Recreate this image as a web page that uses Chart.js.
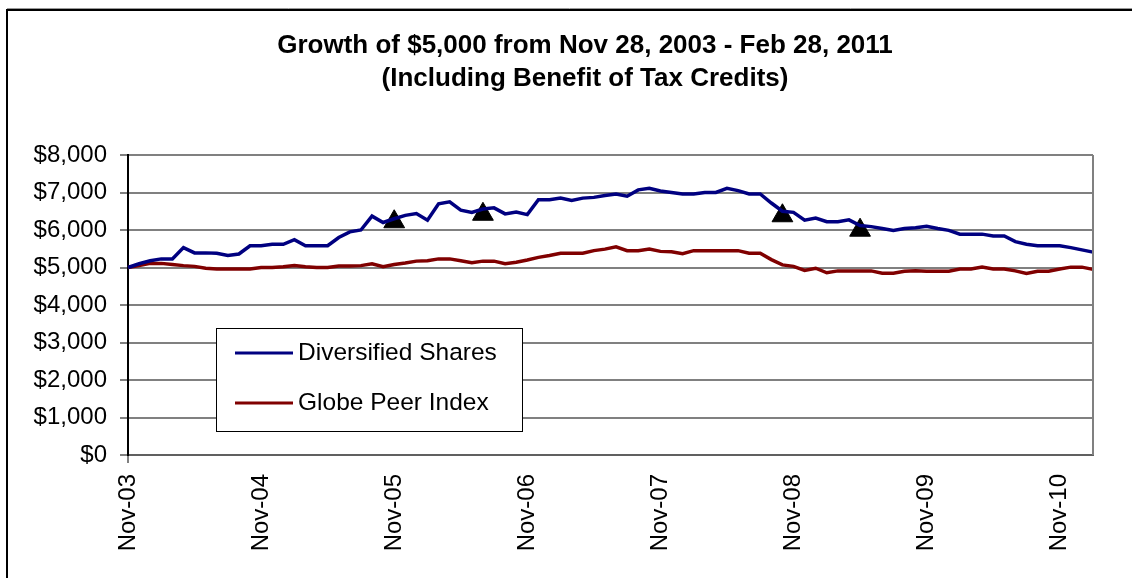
<!DOCTYPE html>
<html>
<head>
<meta charset="utf-8">
<script src="https://cdn.jsdelivr.net/npm/chart.js@4/dist/chart.umd.min.js"></script>
<style>
  html, body { margin: 0; padding: 0; background: #fff; }
  #wrap { width: 1132px; height: 578px; position: relative; }
</style>
</head>
<body>
<div id="wrap"><canvas id="growthChart"></canvas></div>
<script>
// monthly values, Nov-03 .. Feb-11
const monthNames = ['Nov', 'Dec', 'Jan', 'Feb', 'Mar', 'Apr', 'May', 'Jun', 'Jul', 'Aug', 'Sep', 'Oct'];
const startYear = 2003;
const monthCount = 88;

const diversified = [
  5000, 5100, 5180, 5230, 5230, 5530, 5390, 5390, 5380, 5320, 5360, 5580,
  5580, 5620, 5620, 5740, 5580, 5580, 5580, 5800, 5950, 6000, 6370, 6200,
  6300, 6390, 6440, 6260, 6700, 6750, 6530, 6470, 6560, 6590, 6430, 6480,
  6410, 6810, 6810, 6850, 6790, 6850, 6870, 6920, 6960, 6900, 7070, 7110,
  7040, 7000, 6960, 6960, 7000, 7000, 7110, 7050, 6960, 6960, 6720, 6500,
  6470, 6260, 6320, 6220, 6220, 6270, 6120, 6090, 6040, 5990, 6040, 6060,
  6100, 6040, 5990, 5890, 5890, 5890, 5840, 5840, 5690, 5620, 5580, 5580,
  5580, 5530, 5470, 5410
];

const peerIndex = [
  5000, 5050, 5110, 5110, 5080, 5050, 5030, 4980, 4960, 4960, 4960, 4960,
  5000, 5000, 5020, 5050, 5020, 5000, 5000, 5040, 5040, 5050, 5100, 5020,
  5080, 5120, 5170, 5180, 5230, 5230, 5180, 5130, 5170, 5170, 5100, 5140,
  5200, 5270, 5320, 5380, 5380, 5380, 5450, 5490, 5550, 5450, 5450, 5490,
  5430, 5420, 5370, 5450, 5450, 5450, 5450, 5450, 5380, 5380, 5210, 5070,
  5030, 4920, 4980, 4860, 4910, 4910, 4910, 4910, 4850, 4850, 4900, 4910,
  4900, 4900, 4900, 4960, 4960, 5010, 4960, 4960, 4910, 4840, 4900, 4900,
  4960, 5010, 5010, 4950
];

// triangle markers
const markerIndex = [24, 32, 59, 66];
const markerValue = [6220, 6420, 6380, 5995];

const titleLines = ['Growth of $5,000 from Nov 28, 2003 - Feb 28, 2011', '(Including Benefit of Tax Credits)'];

const labels = [];
for (let i = 0; i < monthCount; i++) {
    const yr = startYear + Math.floor((i + 10) / 12);
    labels.push(monthNames[i % 12] + '-' + String(yr % 100).padStart(2, '0'));
}
const markers = labels.map(() => null);
markerIndex.forEach((idx, k) => { markers[idx] = markerValue[k]; });

const FONT = '"Liberation Sans", Arial, sans-serif';

// frame, title, plot border and legend box
const decorations = {
    id: 'decorations',
    beforeDraw(chart) {
        const ctx = chart.ctx;
        ctx.save();
        ctx.fillStyle = '#fff';
        ctx.fillRect(0, 0, chart.width, chart.height);
        ctx.strokeStyle = '#999';
        ctx.lineWidth = 1;
        ctx.beginPath();
        ctx.moveTo(7, 8.5); ctx.lineTo(chart.width, 8.5);
        ctx.stroke();
        ctx.strokeStyle = '#000';
        ctx.lineWidth = 2;
        ctx.beginPath();
        ctx.moveTo(7, chart.height); ctx.lineTo(7, 10); ctx.lineTo(chart.width, 10);
        ctx.stroke();
        ctx.restore();
    },
    afterDatasetsDraw(chart) {
        const ctx = chart.ctx;
        const a = chart.chartArea;
        ctx.save();
        ctx.strokeStyle = '#808080';
        ctx.lineWidth = 2;
        ctx.beginPath();
        ctx.moveTo(a.right, a.top); ctx.lineTo(a.right, a.bottom);
        ctx.stroke();
        ctx.restore();
    },
    afterDraw(chart) {
        const ctx = chart.ctx;
        ctx.save();
        ctx.fillStyle = '#000';
        ctx.textAlign = 'center';
        ctx.textBaseline = 'middle';
        ctx.font = 'bold 26px ' + FONT;
        ctx.fillText(titleLines[0], 585, 46);
        ctx.fillText(titleLines[1], 585, 79);

        // legend
        const lx = 216, ly = 328, lw = 306, lh = 103;
        ctx.fillStyle = '#fff';
        ctx.fillRect(lx, ly, lw, lh);
        ctx.strokeStyle = '#000';
        ctx.lineWidth = 1;
        ctx.strokeRect(lx + 0.5, ly + 0.5, lw, lh);
        ctx.font = '24.5px ' + FONT;
        ctx.textAlign = 'left';
        chart.data.datasets.slice(0, 2).forEach((ds, k) => {
            const y = 353 + k * 50;
            ctx.strokeStyle = ds.borderColor;
            ctx.lineWidth = 3;
            ctx.beginPath();
            ctx.moveTo(235, y); ctx.lineTo(293, y);
            ctx.stroke();
            ctx.fillStyle = '#000';
            ctx.fillText(ds.label, 298, y);
        });
        ctx.restore();
    }
};

new Chart(document.getElementById('growthChart'), {
    type: 'line',
    data: {
        labels: labels,
        datasets: [{
            label: 'Diversified Shares',
            data: diversified,
            borderColor: '#000080',
            borderWidth: 3.5,
            pointRadius: 0,
            tension: 0
        }, {
            label: 'Globe Peer Index',
            data: peerIndex,
            borderColor: '#800000',
            borderWidth: 3.5,
            pointRadius: 0,
            tension: 0
        }, {
            label: 'markers',
            data: markers,
            showLine: false,
            pointStyle: 'triangle',
            pointRadius: 12,
            pointBackgroundColor: '#000',
            pointBorderColor: '#000',
            pointBorderWidth: 1
        }]
    },
    options: {
        responsive: true,
        maintainAspectRatio: false,
        animation: false,
        layout: {
            padding: { top: 155, right: 39, bottom: 0, left: 0 }
        },
        plugins: {
            legend: { display: false },
            title: { display: false },
            tooltip: { enabled: false }
        },
        scales: {
            x: {
                offset: false,
                afterFit: (scale) => { scale.height = 123; },
                border: { color: '#606060', width: 2 },
                grid: {
                    drawOnChartArea: false,
                    drawTicks: true,
                    tickLength: 8,
                    tickColor: (c) => (c.index % 12 === 0 ? '#808080' : 'rgba(0,0,0,0)'),
                    lineWidth: 2
                },
                ticks: {
                    autoSkip: false,
                    minRotation: 90,
                    maxRotation: 90,
                    padding: 11,
                    color: '#000',
                    font: { family: FONT, size: 24 },
                    callback: function(value, index) {
                        return index % 12 === 0 ? this.getLabelForValue(value) : null;
                    }
                }
            },
            y: {
                min: 0,
                max: 8000,
                afterFit: (scale) => { scale.width = 128; },
                border: { color: '#000', width: 2 },
                grid: {
                    color: '#808080',
                    lineWidth: 2,
                    tickLength: 8,
                    tickColor: '#808080'
                },
                ticks: {
                    stepSize: 1000,
                    padding: 13,
                    color: '#000',
                    font: { family: FONT, size: 24 },
                    callback: function(value) {
                        return '$' + value.toLocaleString('en-US');
                    }
                }
            }
        }
    },
    plugins: [decorations]
});
</script>
</body>
</html>
